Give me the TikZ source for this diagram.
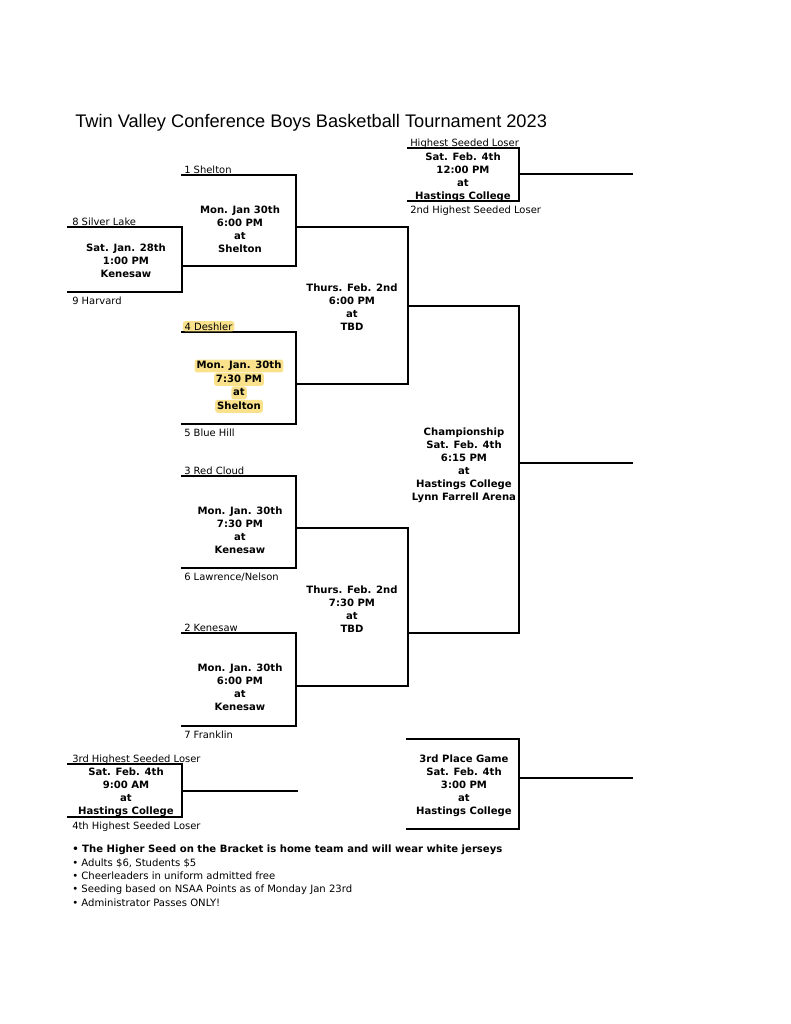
\documentclass[tikz,border=0pt]{standalone}
\usepackage{fontspec}
\setmainfont{DejaVu Sans}
\newfontfamily\titlefont{Liberation Sans}
\usetikzlibrary{positioning}
\definecolor{hilite}{RGB}{250,226,140}

\newcommand{\bracketbox}[5]{%
  \coordinate (#1-tl) at (#2,#4);
  \coordinate (#1-tr) at (#3,#4);
  \coordinate (#1-br) at (#3,#5);
  \coordinate (#1-bl) at (#2,#5);
  \draw[bline] (#1-tl) -- (#1-tr) -- (#1-br) -- (#1-bl);}

\begin{document}
\begin{tikzpicture}[x=0.7737pt,y=-0.7737pt,
  bline/.style={line width=1.4pt,line cap=rect},
  game/.style={font=\fontsize{7.8}{10}\selectfont\bfseries,align=center,inner sep=0pt},
  team/.style={font=\fontsize{7.7}{10}\selectfont,anchor=base west,inner sep=0pt},
  hlline/.style={font=\fontsize{7.8}{10}\selectfont\bfseries,fill=hilite,rounded corners=2pt,
    inner xsep=1.5pt,inner ysep=0.7pt,text height=6.4pt,text depth=2.2pt}]
\useasboundingbox (0,0) rectangle (791,1024);

\node[anchor=base west,inner sep=0pt,font=\titlefont\fontsize{14.1}{17}\selectfont] (title) at (75,127)
  {Twin Valley Conference Boys Basketball Tournament 2023};

\bracketbox{rone}{68}{182}{227}{292}
\bracketbox{qone}{182}{296}{175}{266}
\bracketbox{qtwo}{182}{296}{332}{424}
\bracketbox{sone}{296}{408}{227}{384}
\bracketbox{cons}{408}{519}{148}{201}
\bracketbox{champ}{408}{519}{306}{633}
\bracketbox{qthree}{182}{296}{476}{568}
\bracketbox{qfour}{182}{296}{633}{726}
\bracketbox{stwo}{296}{408}{528}{686}
\bracketbox{consb}{68}{182}{764}{817}
\bracketbox{third}{407}{519}{739}{829}

\coordinate (cons-out) at (519,174);
\coordinate (cons-end) at (632,174);
\coordinate (champ-out) at (519,463);
\coordinate (champ-end) at (632,463);
\coordinate (consb-out) at (182,791);
\coordinate (consb-end) at (297,791);
\coordinate (third-out) at (519,778);
\coordinate (third-end) at (632,778);
\draw[bline] (cons-out) -- (cons-end);
\draw[bline] (champ-out) -- (champ-end);
\draw[bline] (consb-out) -- (consb-end);
\draw[bline] (third-out) -- (third-end);

\node[team] (t8) at (72,225) {8 Silver Lake};
\node[team] (t9) at (72,304) {9 Harvard};
\node[team] (t1) at (184,173) {1 Shelton};
\node[team,fill=hilite,rounded corners=2pt,inner xsep=1.5pt,inner ysep=1pt] (t4) at (182.5,330) {4 Deshler};
\node[team] (t5) at (184,436) {5 Blue Hill};
\node[team] (t3) at (184,474) {3 Red Cloud};
\node[team] (t6) at (184,580) {6 Lawrence/Nelson};
\node[team] (t2) at (184,631) {2 Kenesaw};
\node[team] (t7) at (184,738) {7 Franklin};
\node[team] (hsl) at (410,146) {Highest Seeded Loser};
\node[team] (hsl2) at (410,213) {2nd Highest Seeded Loser};
\node[team] (hsl3) at (72,762) {3rd Highest Seeded Loser};
\node[team] (hsl4) at (72,829) {4th Highest Seeded Loser};

\node[game] (g1) at (126,260.5) {Sat. Jan. 28th\\1:00 PM\\Kenesaw};
\node[game] (g2) at (240,229) {Mon. Jan 30th\\6:00 PM\\at\\Shelton};
\node[hlline] (g3a) at (239,366) {Mon. Jan. 30th};
\node[hlline,below=0pt of g3a] (g3b) {7:30 PM};
\node[hlline,below=0pt of g3b] (g3c) {at};
\node[hlline,below=0pt of g3c] (g3d) {Shelton};
\node[game] (g4) at (240,530) {Mon. Jan. 30th\\7:30 PM\\at\\Kenesaw};
\node[game] (g5) at (240,687) {Mon. Jan. 30th\\6:00 PM\\at\\Kenesaw};
\node[game] (g6) at (352,307) {Thurs. Feb. 2nd\\6:00 PM\\at\\TBD};
\node[game] (g7) at (352,609) {Thurs. Feb. 2nd\\7:30 PM\\at\\TBD};
\node[game] (g8) at (463,177) {Sat. Feb. 4th\\12:00 PM\\at\\Hastings College};
\node[game] (g9) at (464,465) {Championship\\Sat. Feb. 4th\\6:15 PM\\at\\Hastings College\\Lynn Farrell Arena};
\node[game] (g10) at (126,792) {Sat. Feb. 4th\\9:00 AM\\at\\Hastings College};
\node[game] (g11) at (464,785.5) {3rd Place Game\\Sat. Feb. 4th\\3:00 PM\\at\\Hastings College};

\node[anchor=north west,align=left,inner sep=0pt,font=\fontsize{7.8}{10.3}\selectfont] (notes) at (72,845)
  {{\bfseries • The Higher Seed on the Bracket is home team and will wear white jerseys}\\
   • Adults \$6, Students \$5\\
   • Cheerleaders in uniform admitted free\\
   • Seeding based on NSAA Points as of Monday Jan 23rd\\
   • Administrator Passes ONLY!};
\end{tikzpicture}
\end{document}
